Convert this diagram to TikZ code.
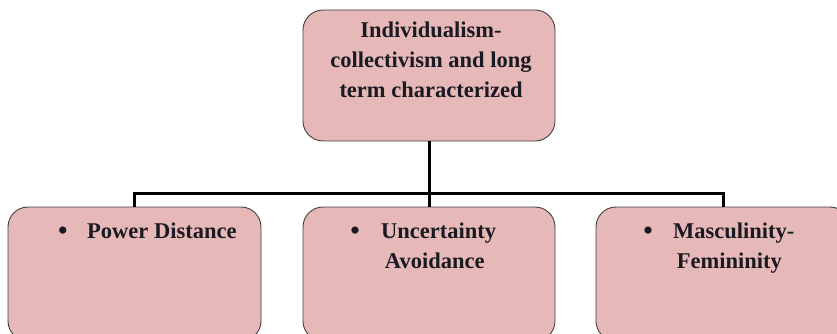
\documentclass[tikz,border=0pt]{standalone}
\usepackage{fontspec}
\setmainfont{Liberation Serif}
\definecolor{boxfill}{HTML}{E6B8B7}
\definecolor{boxline}{HTML}{404040}
\definecolor{txt}{HTML}{1A1A22}
\begin{document}
\begin{tikzpicture}[x=1pt,y=-1pt,
  box/.style={draw=boxline, line width=0.9pt, fill=boxfill, rounded corners=20pt, inner sep=0pt},
  lbl/.style={font=\bfseries\fontsize{22.5}{30}\selectfont, text=txt, inner sep=0pt},
  bul/.style={font=\fontsize{30}{30}\selectfont, text=txt, inner sep=0pt, anchor=base},
  conn/.style={line width=3pt, black, line join=miter}]
\useasboundingbox (0,0) rectangle (837,334);
\clip (0,0) rectangle (837,334);
% boxes
\node[box, minimum width=252pt, minimum height=131pt] (top) at (429,75.5) {};
\node[box, minimum width=253pt, minimum height=134pt] (left) at (134.5,274) {};
\node[box, minimum width=252pt, minimum height=134pt] (mid) at (429,274) {};
\node[box, minimum width=254pt, minimum height=134pt] (right) at (723,274) {};
% connectors
\coordinate (bus) at (429,193);
\draw[conn] (top.south) -- (mid.north);
\draw[conn] (left.north) |- (bus) -| (right.north);
% texts
\node[lbl, align=center, anchor=north] (ttop) at (431,22)
  {Individualism-\\collectivism and long\\term characterized};
\node[bul] (b1) at (63,240) {\textbullet};
\node[lbl, anchor=base west] (t1) at (87,238) {Power Distance};
\node[bul] (b2) at (355,240) {\textbullet};
\node[lbl, align=left, anchor=north west] (t2) at (381,223) {Uncertainty\\\,Avoidance};
\node[bul] (b3) at (648,240) {\textbullet};
\node[lbl, align=left, anchor=north west] (t3) at (673,223) {Masculinity-\\\,Femininity};
\end{tikzpicture}
\end{document}
